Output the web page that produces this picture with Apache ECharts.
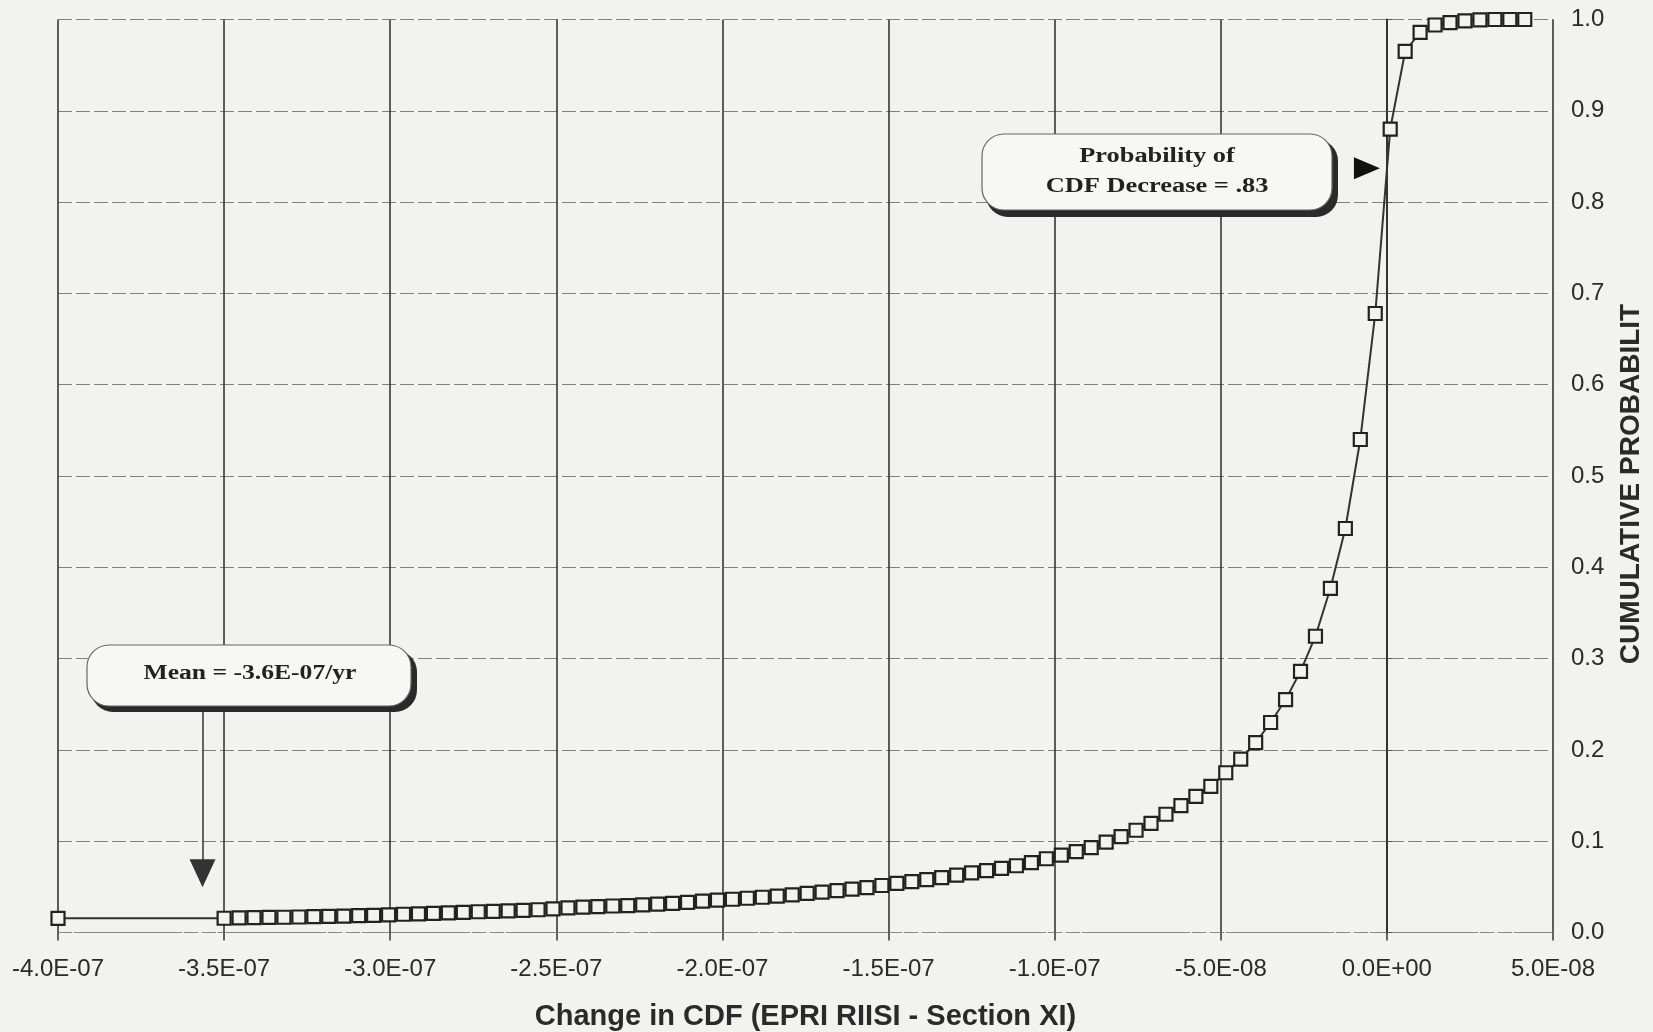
<!DOCTYPE html>
<html>
<head>
<meta charset="utf-8">
<script src="https://cdn.jsdelivr.net/npm/echarts@6/dist/echarts.min.js"></script>
<style>
  html, body { margin: 0; padding: 0; background: #f2f2f0; }
  #chart { width: 1653px; height: 1032px; }
</style>
</head>
<body>
<div id="chart"></div>
<script>
// Change in CDF (per year) for each plotted point
const changeInCdf = [
  -400e-9,
  -350e-9, -345.5e-9, -341e-9, -336.5e-9, -332e-9, -327.5e-9, -323e-9, -318.5e-9, -314e-9, -309.5e-9,
  -305e-9, -300.5e-9, -296e-9, -291.5e-9, -287e-9, -282.5e-9, -278e-9, -273.5e-9, -269e-9, -264.5e-9,
  -260e-9, -255.5e-9, -251e-9, -246.5e-9, -242e-9, -237.5e-9, -233e-9, -228.5e-9, -224e-9, -219.5e-9,
  -215e-9, -210.5e-9, -206e-9, -201.5e-9, -197e-9, -192.5e-9, -188e-9, -183.5e-9, -179e-9, -174.5e-9,
  -170e-9, -165.5e-9, -161e-9, -156.5e-9, -152e-9, -147.5e-9, -143e-9, -138.5e-9, -134e-9, -129.5e-9,
  -125e-9, -120.5e-9, -116e-9, -111.5e-9, -107e-9, -102.5e-9, -98e-9, -93.5e-9, -89e-9, -84.5e-9,
  -80e-9, -75.5e-9, -71e-9, -66.5e-9, -62e-9, -57.5e-9, -53e-9, -48.5e-9, -44e-9, -39.5e-9,
  -35e-9, -30.5e-9, -26e-9, -21.5e-9, -17e-9, -12.5e-9, -8e-9, -3.5e-9, 1e-9, 5.5e-9,
  10e-9, 14.5e-9, 19e-9, 23.5e-9, 28e-9, 32.5e-9, 37e-9, 41.5e-9
];
// Cumulative probability at each point
const cumulativeProbability = [
  0.0155,
  0.0156, 0.0160, 0.0162, 0.0165, 0.0167, 0.0170, 0.0173, 0.0176, 0.0180, 0.0184,
  0.0188, 0.0194, 0.0200, 0.0205, 0.0210, 0.0216, 0.0221, 0.0227, 0.0232, 0.0237,
  0.0243, 0.0249, 0.0258, 0.0270, 0.0277, 0.0283, 0.0290, 0.0295, 0.0302, 0.0310,
  0.0319, 0.0330, 0.0344, 0.0355, 0.0364, 0.0375, 0.0386, 0.0399, 0.0413, 0.0428,
  0.0443, 0.0458, 0.0474, 0.0492, 0.0515, 0.0538, 0.0557, 0.0580, 0.0602, 0.0628,
  0.0652, 0.0678, 0.0703, 0.0731, 0.0765, 0.0808, 0.0848, 0.0885, 0.0930, 0.0990,
  0.1050, 0.1120, 0.1196, 0.1295, 0.1390, 0.1490, 0.1600, 0.1750, 0.1900, 0.2080,
  0.2300, 0.2550, 0.2860, 0.3245, 0.3770, 0.4425, 0.5400, 0.6780, 0.8800, 0.9650,
  0.9860, 0.9940, 0.9965, 0.9985, 0.9995, 1.0, 1.0, 1.0
];
const xAxisTitle = 'Change in CDF (EPRI RIISI - Section XI)';
const yAxisTitle = 'CUMULATIVE PROBABILIT';
const meanLabel = 'Mean = -3.6E-07/yr';
const meanPointerX = -3.565e-7;
const decreaseLabel = 'Probability of\nCDF Decrease = .83';
const decreaseProbability = 0.837;
const decreasePointerX = -6e-9;

const BG = '#f2f2f0';
const seriesData = changeInCdf.map((x, i) => [x, cumulativeProbability[i]]);

function fmtExp(v) {
  if (Math.abs(v) < 1e-15) v = 0;
  let s = v.toExponential(1).toUpperCase();
  return s.replace(/E([+-])(\d)$/, 'E$10$2');
}

const chart = echarts.init(document.getElementById('chart'));
chart.setOption({
  animation: false,
  backgroundColor: BG,
  grid: { left: 58, right: 100, top: 19.5, bottom: 99.5, containLabel: false, outerBoundsMode: 'none' },
  xAxis: {
    type: 'value',
    min: -4e-7, max: 5e-8, interval: 5e-8,
    name: xAxisTitle,
    nameLocation: 'middle',
    nameGap: 70,
    nameTextStyle: { fontFamily: 'Liberation Sans', fontWeight: 'bold', fontSize: 29, color: '#2a2a2a' },
    axisLine: { show: true, lineStyle: { color: '#8a8a8a', width: 1, type: [12, 4] } },
    axisTick: { show: true, length: 8, lineStyle: { color: '#333', width: 1.5 } },
    axisLabel: { formatter: fmtExp, margin: 25, fontFamily: 'Liberation Sans', fontSize: 24, color: '#2a2a2a' },
    splitLine: { show: true, lineStyle: { color: '#363636', width: 1.6 } }
  },
  yAxis: {
    type: 'value',
    position: 'right',
    min: 0, max: 1, interval: 0.1,
    axisLine: { show: true, lineStyle: { color: '#333', width: 2 } },
    axisTick: { show: true, length: 5, lineStyle: { color: '#555', width: 1 } },
    axisLabel: { formatter: v => v.toFixed(1), margin: 18, fontFamily: 'Liberation Sans', fontSize: 24, color: '#2a2a2a' },
    splitLine: { show: true, lineStyle: { color: '#808080', width: 1, type: [14, 4] } }
  },
  series: [{
    type: 'line',
    data: seriesData,
    showAllSymbol: true,
    symbol: 'rect',
    symbolSize: 13,
    lineStyle: { color: '#333', width: 2 },
    itemStyle: { color: BG, borderColor: '#222', borderWidth: 2.2 },
    z: 5,
    markLine: {
      silent: true,
      symbol: ['none', 'triangle'],
      symbolSize: [26, 28],
      label: { show: false },
      lineStyle: { color: '#333', width: 1.5, type: 'solid' },
      itemStyle: { color: '#111' },
      data: [[{ coord: [meanPointerX, 0.246] }, { coord: [meanPointerX, 0.065] }]]
    },
    markPoint: {
      silent: true,
      symbol: 'triangle',
      symbolRotate: -90,
      symbolSize: [22, 26],
      itemStyle: { color: '#111', borderWidth: 0 },
      label: { show: false },
      data: [{ coord: [decreasePointerX, decreaseProbability] }]
    }
  }],
  graphic: [
    // Y axis title (right side, reading bottom to top)
    { type: 'text', z: 10, x: 1631, y: 484, rotation: Math.PI / 2, style: { text: yAxisTitle, fill: '#2a2a2a', font: 'bold 28px "Liberation Sans"', align: 'center', verticalAlign: 'middle' } },
    // Probability box
    { type: 'rect', z: 20, shape: { x: 986, y: 139, width: 352, height: 78, r: 22 }, style: { fill: '#2a2a2a' } },
    { type: 'rect', z: 21, shape: { x: 982, y: 134, width: 350, height: 76, r: 22 }, style: { fill: '#f7f7f5', stroke: '#666', lineWidth: 1.2 } },
    { type: 'text', z: 22, x: 1157, y: 172, scaleX: 1.32, style: { text: decreaseLabel, fill: '#222', font: 'bold 20px "Liberation Serif"', align: 'center', verticalAlign: 'middle', lineHeight: 30 } },
    // Mean box
    { type: 'rect', z: 20, shape: { x: 91, y: 650, width: 326, height: 62, r: 22 }, style: { fill: '#2a2a2a' } },
    { type: 'rect', z: 21, shape: { x: 87, y: 645, width: 324, height: 61, r: 22 }, style: { fill: '#f7f7f5', stroke: '#666', lineWidth: 1.2 } },
    { type: 'text', z: 22, x: 250, y: 674, scaleX: 1.28, style: { text: meanLabel, fill: '#222', font: 'bold 20px "Liberation Serif"', align: 'center', verticalAlign: 'middle' } }
  ]
});
</script>
</body>
</html>
